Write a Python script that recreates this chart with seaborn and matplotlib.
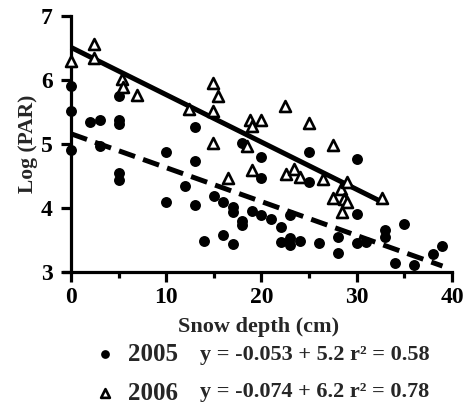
import numpy as np
import pandas as pd
import matplotlib
matplotlib.use("Agg")
import matplotlib.pyplot as plt
import seaborn as sns

# ---- data ----
depth_2005 = [0, 0, 0, 2, 3, 3, 5, 5, 5, 5, 5, 10, 10, 12, 13, 13, 13, 14, 15, 16,
              16, 17, 17, 17, 18, 18, 18, 19, 20, 20, 20, 21, 22, 22, 23, 23, 23, 24,
              25, 25, 26, 28, 28, 30, 30, 30, 31, 33, 33, 34, 35, 36, 38, 39]
par_2005 = [5.90, 5.51, 4.91, 5.34, 5.37, 4.97, 5.75, 5.37, 5.31, 4.55, 4.44, 4.88,
            4.10, 4.35, 5.26, 4.74, 4.04, 3.49, 4.18, 4.10, 3.58, 4.02, 3.94, 3.44,
            5.02, 3.80, 3.73, 3.96, 4.80, 4.47, 3.89, 3.83, 3.70, 3.47, 3.53, 3.42,
            3.89, 3.48, 4.88, 4.41, 3.45, 3.55, 3.30, 4.77, 3.91, 3.45, 3.47, 3.66,
            3.55, 3.14, 3.75, 3.11, 3.28, 3.41]
depth_2006 = [0, 2.4, 2.4, 5.4, 5.5, 6.9, 12.4, 14.9, 15.4, 14.9, 14.9, 16.5, 18.5,
              18.8, 19, 19, 20, 22.5, 22.6, 23.4, 24, 25, 26.5, 27.5, 27.5, 28.3,
              28.5, 28.7, 29, 29, 32.7]
par_2006 = [6.29, 6.57, 6.35, 6.02, 5.89, 5.77, 5.54, 5.96, 5.75, 5.51, 5.01, 4.47,
            4.97, 5.38, 5.28, 4.60, 5.37, 5.60, 4.53, 4.61, 4.48, 5.33, 4.45, 4.99,
            4.15, 4.29, 3.93, 4.14, 4.41, 4.10, 4.15]

years = ["2005", "2006"]
fit_slope = [-0.053, -0.074]
fit_intercept = [5.16, 6.51]
eq_labels = ["y = -0.053 + 5.2 r\u00b2 = 0.58", "y = -0.074 + 6.2 r\u00b2 = 0.78"]
x_ticks = [0, 10, 20, 30, 40]
x_minor = [5, 15, 25, 35]
y_ticks = [3, 4, 5, 6, 7]
x_label = "Snow depth (cm)"
y_label = "Log (PAR)"

sns.set_style("ticks")
plt.rcParams["font.family"] = ["Liberation Serif", "DejaVu Serif"]
plt.rcParams["font.weight"] = "bold"
plt.rcParams["axes.labelweight"] = "bold"

W, H = 469, 409
fig = plt.figure(figsize=(W / 100, H / 100), dpi=100)
left_px, right_px, top_px, bot_px = 64.3, 452, 16, 272
ax = fig.add_axes([left_px / W, 1 - bot_px / H, (right_px - left_px) / W, (bot_px - top_px) / H])

df05 = pd.DataFrame({"depth": depth_2005, "par": par_2005})
df06 = pd.DataFrame({"depth": depth_2006, "par": par_2006})

# fit lines over data range
for i, (df, ls) in enumerate([(df05, (0, (3.4, 1.7))), (df06, "-")]):
    xs = np.array([df["depth"].min(), df["depth"].max()])
    ys = fit_intercept[i] + fit_slope[i] * xs
    sns.lineplot(x=xs, y=ys, ax=ax, color="black", lw=3.6, linestyle=ls,
                 zorder=2, solid_capstyle="butt", dash_capstyle="butt")

sns.scatterplot(data=df05, x="depth", y="par", ax=ax, marker="o", s=62,
                color="black", edgecolor="black", linewidth=0, clip_on=False,
                zorder=3, label=years[0])
sns.scatterplot(data=df06, x="depth", y="par", ax=ax, marker="^", s=62,
                color="white", edgecolor="black", linewidth=1.9, clip_on=False,
                zorder=4, label=years[1])

ax.set_xlim(-0.7, 40)
ax.set_ylim(3, 7)
ax.set_xticks(x_ticks)
ax.set_xticks(x_minor, minor=True)
ax.set_yticks(y_ticks)
ax.spines["left"].set_position(("data", 0))
for s in ["top", "right"]:
    ax.spines[s].set_visible(False)
for s in ["left", "bottom"]:
    ax.spines[s].set_linewidth(2.3)
    ax.spines[s].set_color("black")
ax.tick_params(axis="both", which="major", length=7, width=2.3, labelsize=17,
               pad=4, colors="black")
ax.tick_params(axis="x", which="minor", length=4, width=2.3, colors="black")
ax.tick_params(axis="y", which="major", pad=6)

ax.set_xlabel(x_label, fontsize=16, fontweight="bold", labelpad=6)
ax.set_ylabel(y_label, fontsize=15.5, fontweight="bold", labelpad=2)

handles, labels = ax.get_legend_handles_labels()
leg = ax.legend(handles, labels, loc="upper left",
                bbox_to_anchor=(92 / W, 1 - 343 / H), bbox_transform=fig.transFigure,
                frameon=False, fontsize=18, handlelength=1.0, handletextpad=0.45,
                labelspacing=0.62, borderpad=0, borderaxespad=0, markerscale=0.8)
for t in leg.get_texts():
    t.set_fontweight("bold")

for i, (lab, yc) in enumerate(zip(eq_labels, [355, 392])):
    fig.text(200 / W, 1 - yc / H, lab, fontsize=16, fontweight="bold",
             ha="left", va="center")

fig.savefig("out.png", dpi=100)
